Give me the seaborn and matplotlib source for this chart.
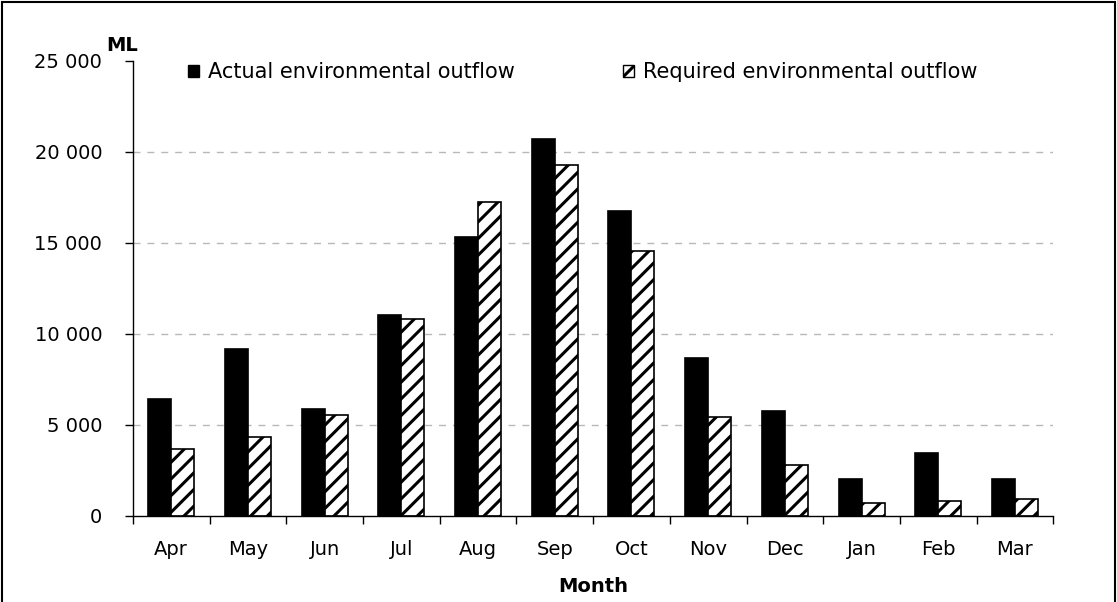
import pandas as pd
import numpy as np
import matplotlib.pyplot as plt
import seaborn as sns
from matplotlib.patches import Rectangle, Patch

months = ["Apr", "May", "Jun", "Jul", "Aug", "Sep", "Oct", "Nov", "Dec", "Jan", "Feb", "Mar"]
actual = [6430, 9180, 5880, 11040, 15330, 20710, 16760, 8680, 5770, 2030, 3460, 2030]
required = [3680, 4340, 5550, 10820, 17250, 19290, 14560, 5440, 2800, 710, 820, 930]
series = ["Actual environmental outflow", "Required environmental outflow"]

df = pd.DataFrame({
    "Month": months * 2,
    "ML": actual + required,
    "Series": [series[0]] * 12 + [series[1]] * 12,
})

sns.set_style("white")
plt.rcParams["font.family"] = ["DejaVu Sans"]
plt.rcParams["hatch.linewidth"] = 2.2
plt.rcParams["text.color"] = "black"
plt.rcParams["axes.labelcolor"] = "black"
plt.rcParams["xtick.color"] = "black"
plt.rcParams["ytick.color"] = "black"

fig = plt.figure(figsize=(11.17, 6.02), dpi=100)
ax = fig.add_axes([0.119, 0.143, 0.824, 0.756])

sns.barplot(data=df, x="Month", y="ML", hue="Series", order=months, hue_order=series,
            palette=["black", "white"], width=0.6, gap=0, edgecolor="black",
            linewidth=1.2, errorbar=None, ax=ax, legend=False)

# hatch the required bars
for bar in ax.containers[1]:
    bar.set_hatch("//")
    bar.set_edgecolor("black")

ax.set_ylim(0, 25000)
ax.set_xlim(-0.5, 11.5)
ax.set_yticks(np.arange(0, 25001, 5000))
ax.set_yticklabels([f"{v:,}".replace(",", " ") for v in range(0, 25001, 5000)], fontsize=14)
ax.tick_params(axis="y", left=True, direction="out", length=6, width=1, pad=16)
ax.set_xticks(range(12))
ax.set_xticklabels(months, fontsize=14)
ax.tick_params(axis="x", bottom=True, length=0, pad=17)
# ticks between categories
ax.set_xticks(np.arange(-0.5, 12, 1), minor=True)
ax.tick_params(axis="x", which="minor", bottom=True, direction="out", length=6, width=1)

for y in range(5000, 25000, 5000):
    ax.axhline(y, color="#b8b8b8", linestyle=(0, (5, 5)), linewidth=1, zorder=0)

for s in ["top", "right"]:
    ax.spines[s].set_visible(False)
for s in ["left", "bottom"]:
    ax.spines[s].set_color("black")
    ax.spines[s].set_linewidth(1)

ax.set_xlabel("Month", fontsize=14, fontweight="bold", labelpad=13)
ax.set_ylabel("")
ax.annotate("ML", xy=(0, 1), xycoords="axes fraction", xytext=(4, 4),
            textcoords="offset points", ha="right", va="bottom",
            fontsize=14, fontweight="bold")

handles = [Patch(facecolor="black", edgecolor="black"),
           Patch(facecolor="white", edgecolor="black", hatch="//")]
leg = ax.legend(handles, series, loc="upper left", bbox_to_anchor=(0.04, 1.038), ncol=2,
                frameon=False, prop={"family": "DejaVu Sans", "size": 15},
                handlelength=0.5, handleheight=0.5, handletextpad=0.45,
                columnspacing=5.2)

fig.patches.append(Rectangle((0.002, -0.1), 0.996, 1.097, transform=fig.transFigure,
                             fill=False, edgecolor="black", linewidth=1.5))

fig.savefig("out.png", dpi=100)
